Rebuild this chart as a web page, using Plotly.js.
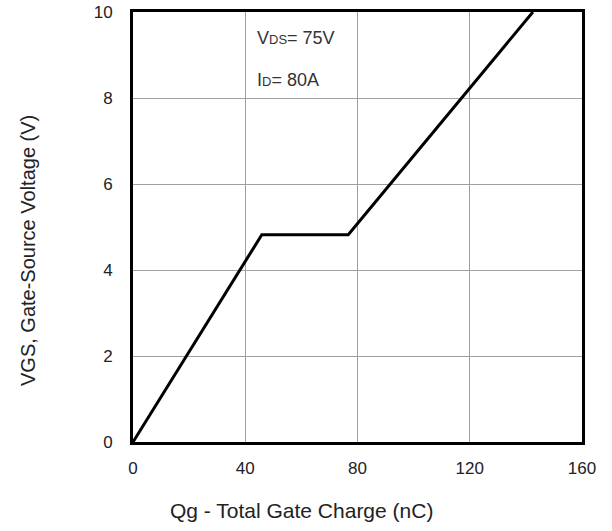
<!DOCTYPE html>
<html>
<head>
<meta charset="utf-8">
<script src="https://cdn.plot.ly/plotly-3.0.1.min.js"></script>
<style>html,body{margin:0;padding:0;background:#fff;}#chart{width:612px;height:531px;}</style>
</head>
<body>
<div id="chart"></div>
<script>
// Gate charge curve (Qg in nC, VGS in V)
const qg = [0, 45.9, 76.7, 142.5];
const vgs = [0, 4.82, 4.82, 10];
const xTicks = [0, 40, 80, 120, 160];
const yTicks = [0, 2, 4, 6, 8, 10];
const noteLines = ['V<span style="font-size:13px">DS</span>= 75V', 'I<span style="font-size:13px">D</span>= 80A'];
const noteY = [9.4, 8.43];
const xTitle = 'Qg - Total Gate Charge (nC)';
const yTitle = 'VGS, Gate-Source Voltage (V)';

const fam = 'Liberation Sans, Arial, sans-serif';

const trace = {
  x: qg, y: vgs, type: 'scatter', mode: 'lines',
  line: {color: '#000', width: 3},
  hoverinfo: 'skip', showlegend: false
};

const notes = noteLines.map((t, i) => ({
  text: t, x: 43.5, y: noteY[i], xref: 'x', yref: 'y',
  xanchor: 'left', yanchor: 'middle', showarrow: false,
  font: {family: fam, size: 18, color: '#333'}
}));
notes.push({
  text: xTitle, xref: 'paper', yref: 'paper',
  x: (301 - 133) / 449, y: -(510 - 442) / 430,
  xanchor: 'center', yanchor: 'middle', showarrow: false,
  font: {family: fam, size: 21, color: '#222'}
});
notes.push({
  text: yTitle, xref: 'paper', yref: 'paper', textangle: -90,
  x: -(133 - 28) / 449, y: (442 - 251) / 430,
  xanchor: 'center', yanchor: 'middle', showarrow: false,
  font: {family: fam, size: 20, color: '#222'}
});

const layout = {
  width: 612, height: 531,
  margin: {l: 133, r: 30, t: 12, b: 89},
  paper_bgcolor: '#fff', plot_bgcolor: '#fff',
  font: {family: fam, color: '#222'},
  xaxis: {
    range: [0, 160], tickvals: xTicks, ticktext: xTicks.map(String),
    showgrid: true, gridcolor: '#a0a0a0', gridwidth: 1,
    zeroline: false, showline: true, linecolor: '#000', linewidth: 3, mirror: true,
    ticks: 'outside', ticklen: 9, tickcolor: 'rgba(0,0,0,0)',
    tickfont: {family: fam, size: 17, color: '#222'}
  },
  yaxis: {
    range: [0, 10], tickvals: yTicks, ticktext: yTicks.map(String),
    showgrid: true, gridcolor: '#a0a0a0', gridwidth: 1,
    zeroline: false, showline: true, linecolor: '#000', linewidth: 3, mirror: true,
    ticks: 'outside', ticklen: 14, tickcolor: 'rgba(0,0,0,0)',
    tickfont: {family: fam, size: 17, color: '#222'}
  },
  annotations: notes
};

Plotly.newPlot('chart', [trace], layout, {displayModeBar: false, staticPlot: true});
</script>
</body>
</html>
